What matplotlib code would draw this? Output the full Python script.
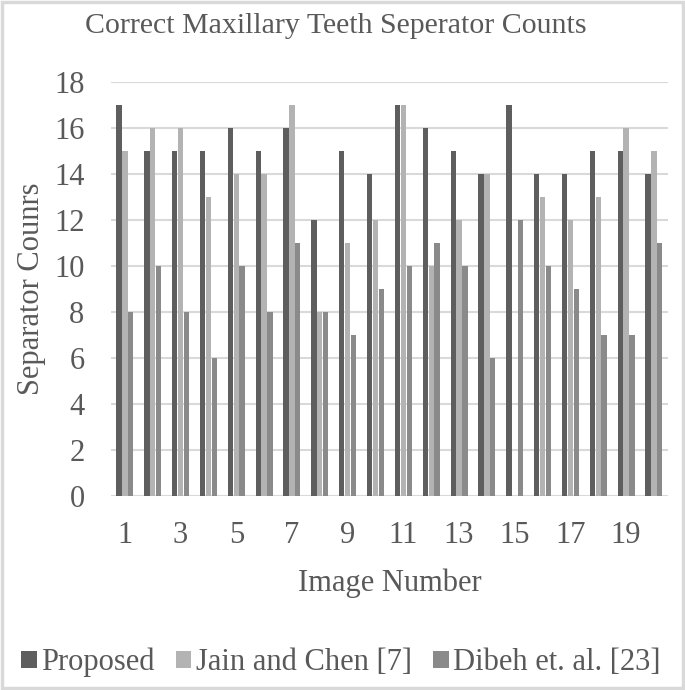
import numpy as np
import matplotlib.pyplot as plt
from matplotlib.patches import Rectangle

# values
images = np.arange(1, 21)
proposed = [17, 15, 15, 15, 16, 15, 16, 12, 15, 14, 17, 16, 15, 14, 17, 14, 14, 15, 15, 14]
jain = [15, 16, 16, 13, 14, 14, 17, 8, 11, 12, 17, 10, 12, 14, 0, 13, 12, 13, 16, 15]
dibeh = [8, 10, 8, 6, 10, 8, 11, 8, 7, 9, 10, 11, 10, 6, 12, 10, 9, 7, 7, 11]
names = ['Proposed', 'Jain and Chen [7]', 'Dibeh et. al. [23]']
colors = ['#5e5e5e', '#b3b3b3', '#8a8a8a']

plt.rcParams['font.family'] = ['Liberation Serif', 'DejaVu Serif']
txt = '#595959'

fig = plt.figure(figsize=(6.85, 6.9), dpi=100)
ax = fig.add_axes([0.162, 0.281, 0.813, 0.6])

w = 0.19
off = 0.21
for k, (vals, c, n) in enumerate(zip([proposed, jain, dibeh], colors, names)):
    ax.bar(images + (k - 1) * off, vals, width=w, color=c, label=n, zorder=3)

ax.set_xlim(0.5, 20.5)
ax.set_ylim(0, 18)
ax.set_yticks(range(0, 19, 2))
ax.set_xticks(images[::2])
ax.tick_params(length=0, labelsize=22, colors=txt)
ax.tick_params(axis='x', pad=18)
ax.tick_params(axis='y', pad=19)
ax.grid(axis='y', color='#d9d9d9', linewidth=1.5, zorder=0)
for s in ax.spines.values():
    s.set_visible(False)

ax.set_xlabel('Image Number', fontsize=22, color=txt, labelpad=13)
ax.set_ylabel('Separator Counrs', fontsize=22, color=txt, labelpad=6)
fig.text(0.49, 0.962, 'Correct Maxillary Teeth Seperator Counts', ha='center', va='center',
         fontsize=21.5, color=txt)

leg = fig.legend(loc='center', bbox_to_anchor=(0.498, 0.04), ncol=3, frameon=False,
                 fontsize=22, handlelength=0.5, handleheight=0.5, handletextpad=0.15,
                 columnspacing=0.7, labelcolor=txt)

fig.patches.append(Rectangle((0.003, 0.003), 0.994, 0.994, transform=fig.transFigure,
                             fill=False, edgecolor='#d9d9d9', linewidth=2.5))

fig.savefig('out.png', dpi=100)
